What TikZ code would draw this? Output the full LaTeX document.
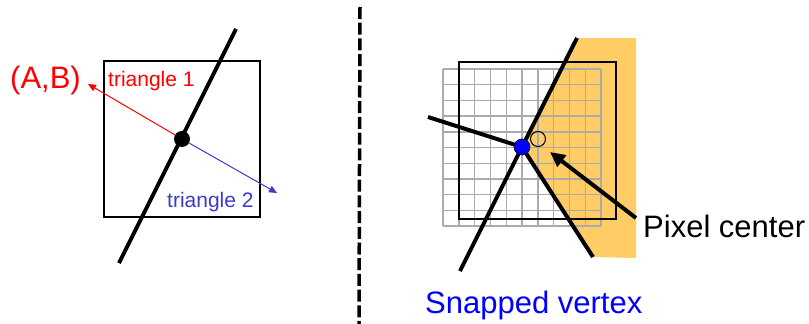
\documentclass[tikz,border=0pt]{standalone}
\usepackage{fontspec}
\setmainfont{Liberation Sans}
\usepackage{xcolor}
\usetikzlibrary{arrows.meta,positioning}

\definecolor{triblue}{HTML}{3B3BCC}
\definecolor{covered}{HTML}{FFCC66}
\definecolor{gridgray}{HTML}{ABABAB}

\begin{document}
\begin{tikzpicture}[
  x=1pt,y=-1pt,
  edge/.style={line width=4pt,black},
  box/.style={draw=black,line width=1.2pt},
  gridline/.style={draw=gridgray,line width=1.4pt},
  bigtxt/.style={inner sep=0pt,anchor=base west,font=\fontsize{31}{36}\selectfont},
  smalltxt/.style={inner sep=0pt,anchor=base west,font=\fontsize{21}{25}\selectfont},
  dot/.style={circle,inner sep=0pt,minimum size=16pt},
  arr/.style={-{Triangle[length=8pt,width=7pt]},line width=1pt}
]
\useasboundingbox[fill=white] (0,0) rectangle (809,324);

% left: edge shared by two triangles
\draw[box] (104,61) rectangle (260,217);
\coordinate (e1) at (119,263);
\coordinate (e2) at (236,29);
\draw[edge] (e1) -- (e2);
\node[dot,fill=black] (ctr) at (182,139) {};
\coordinate (tipab) at (88,84);
\coordinate (tiptwo) at (277,193);
\draw[arr,red] (ctr) -- (tipab);
\draw[arr,triblue] (ctr) -- (tiptwo);

\node[bigtxt,text=red] (ab) at (10,88) {(A,B)};
\node[smalltxt,text=red] (tri1) at (108,86) {triangle 1};
\node[smalltxt,text=triblue] (tri2) at (167,207) {triangle 2};

% separator
\coordinate (sep1) at (360,7);
\coordinate (sep2) at (359,324);
\draw[line width=3.5pt,dash pattern=on 12pt off 3.7pt] (sep1) -- (sep2);

% right: snapped vertex on the pixel grid
\coordinate (v) at (522,147);
\coordinate (u1) at (577,38);
\coordinate (u2) at (428,117);
\coordinate (u3) at (460,271);
\coordinate (u4) at (593,257);
\fill[covered] (u1) -- (636,38) -- (636,258) -- (u4) -- (v) -- cycle;
\foreach \i in {0,...,10} {
  \draw[gridline] (443+15.8*\i,69) -- (443+15.8*\i,226);
  \draw[gridline] (443,69+15.7*\i) -- (601,69+15.7*\i);
}
\draw[box] (459,62) rectangle (616,219);
\foreach \u in {u1,u2,u3,u4}
  \draw[edge] (v) -- (\u);
\node[dot,fill=blue,draw=black,line width=0.6pt] (snap) at (v) {};
\node[circle,draw=black,line width=1pt,inner sep=0pt,minimum size=15pt] (pix) at (538,139) {};

\node[bigtxt] (pixlbl) at (643,237) {Pixel center};
\coordinate (arrstart) at (636,218);
\coordinate (arrtip) at (550,152);
\draw[-{Triangle[length=15pt,width=14pt]},line width=4pt] (arrstart) -- (arrtip);
\node[bigtxt,text=blue] (snaplbl) at (425,313) {Snapped vertex};

\end{tikzpicture}
\end{document}
